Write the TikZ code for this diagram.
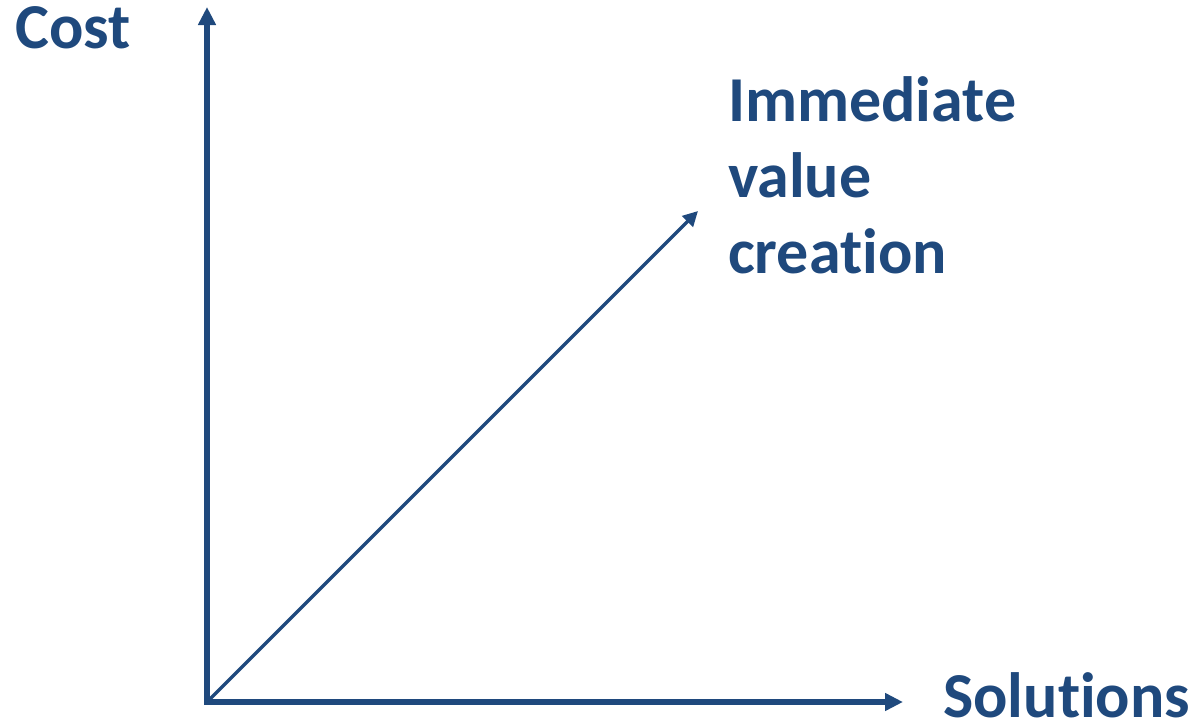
\documentclass[tikz,border=0pt]{standalone}
\usepackage{fontspec}
\setmainfont{Carlito}[Ligatures=NoCommon]
\usetikzlibrary{arrows.meta}
\definecolor{axisblue}{RGB}{31,73,125}
\begin{document}
\begin{tikzpicture}[x=1pt,y=-1pt,
  lbl/.style={anchor=base west,inner sep=0pt,text=axisblue,font=\fontsize{64}{76}\selectfont\bfseries},
  axis/.style={draw=axisblue,line width=5.5pt,-{Triangle[length=18pt,width=17pt]}},
  diag/.style={draw=axisblue,line width=3.5pt,-{Triangle[length=15pt,width=15pt]}}]
\useasboundingbox (0,0) rectangle (1197,728);
\coordinate (o) at (207,702);
\coordinate (ytip) at (207,7);
\coordinate (xtip) at (903,702);
\coordinate (dtip) at (698,211);
\draw[axis] ([yshift=3pt]o) -- (ytip);
\draw[axis] ([xshift=-2.75pt]o) -- (xtip);
\draw[diag] (o) -- (dtip);
\node[lbl] (cost) at (15,48) {Cost};
\node[lbl] (l1) at (728,121) {Immediate};
\node[lbl] (l2) at (728,197) {value};
\node[lbl] (l3) at (728,273) {creation};
\node[lbl] (sol) at (943,717) {Solutions};
\end{tikzpicture}
\end{document}
